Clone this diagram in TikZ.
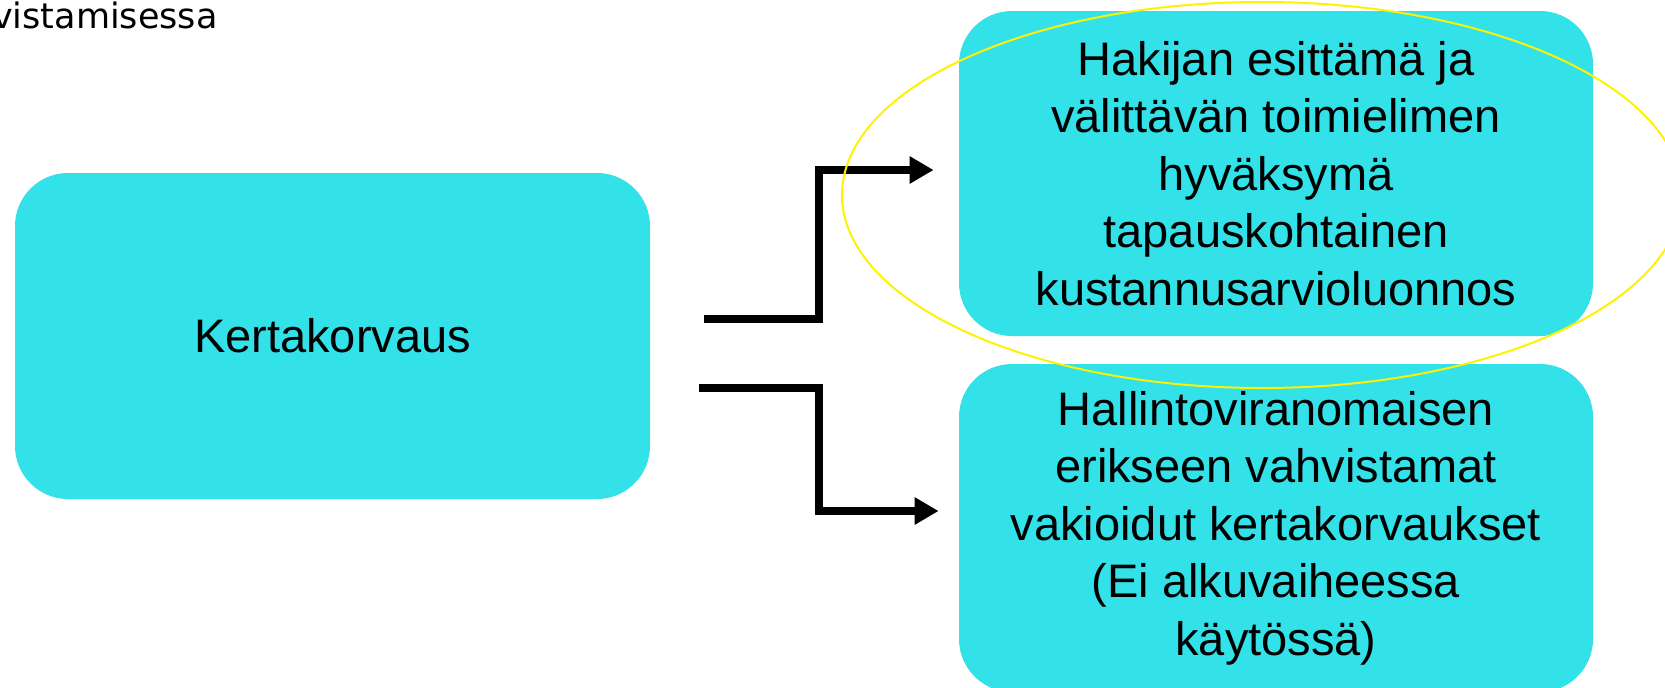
\documentclass[tikz,border=0pt]{standalone}
\usepackage{fontspec}
\setmainfont{Liberation Sans}
\newfontfamily\headfont{DejaVu Sans}
\usetikzlibrary{positioning,arrows.meta}
\definecolor{boxcyan}{HTML}{33E1E9}

\begin{document}
\begin{tikzpicture}[
        x=0.5pt, y=-0.5pt,
        box/.style={
            rectangle,
            fill=boxcyan,
            minimum width=317pt,
            minimum height=163pt,
            align=center,
            rounded corners=26.5pt,
            inner sep=0pt,
            font=\fontsize{23.5pt}{28.75pt}\selectfont
        },
        arrow/.style={
            -{Triangle[length=12pt,width=13pt]},
            line width=4pt
        }
    ]
    \useasboundingbox (0,0) rectangle (1665,687);

    % Cut-off heading
    \node[anchor=base east, inner sep=0pt, font=\headfont\fontsize{17.5pt}{21pt}\selectfont] (heading) at (218,28) {vistamisessa};

    % Left box
    \node[box, minimum width=317.5pt] (kerta) at (332.5,336) {Kertakorvaus};

    % Right boxes
    \node[box, minimum height=162.5pt] (hakija) at (1276,173.5) {Hakijan esittämä ja\\välittävän toimielimen\\hyväksymä\\tapauskohtainen\\kustannusarvioluonnos};
    \node[box, minimum height=164pt] (hallinto) at (1276,528) {Hallintoviranomaisen\\erikseen vahvistamat\\vakioidut kertakorvaukset\\(Ei alkuvaiheessa\\käytössä)};

    % Connections - across, then up or down, then across
    \draw[arrow] ([xshift=27pt,yshift=8.5pt]kerta.east) -- ++(57.5pt,0) |- ([xshift=-12.5pt,yshift=1.75pt]hakija.west);
    \draw[arrow] ([xshift=24.5pt,yshift=-26pt]kerta.east) -- ++(60pt,0) |- ([xshift=-10pt,yshift=8.5pt]hallinto.west);

    % Highlight
    \draw[yellow, line width=1pt] (1262,195) ellipse [x radius=210pt, y radius=96.5pt];

\end{tikzpicture}
\end{document}
